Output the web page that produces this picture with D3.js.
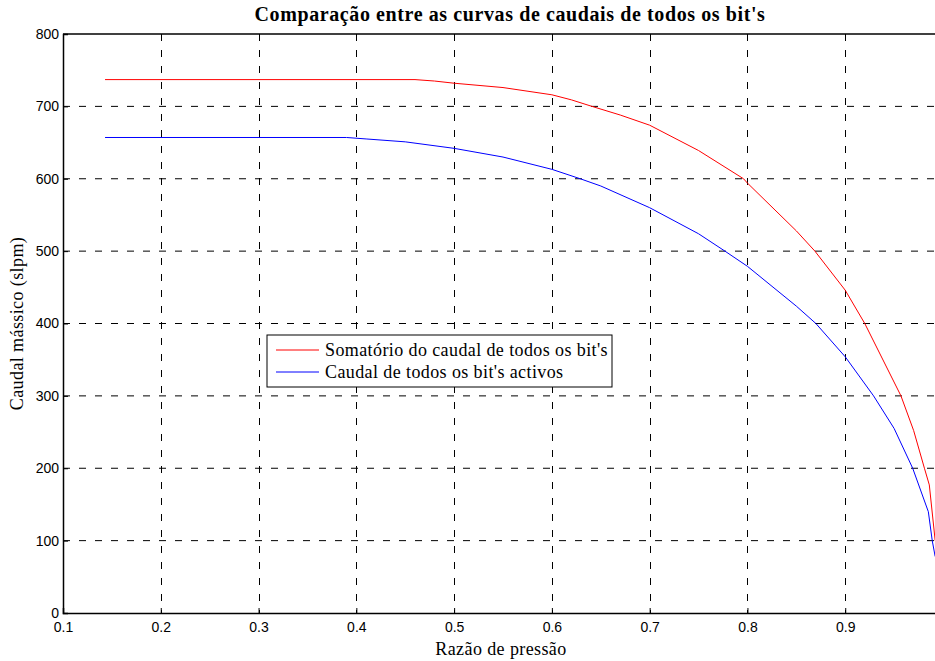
<!DOCTYPE html>
<html lang="pt">
<head>
<meta charset="UTF-8">
<title>Comparação entre as curvas de caudais</title>
<script src="https://d3js.org/d3.v7.min.js"></script>
<style>
  html, body { margin: 0; padding: 0; background: #fff; }
  svg { display: block; }
  .tick text { font-family: Helvetica, Arial, 'Liberation Sans', sans-serif; font-size: 14px; fill: #000; }
  .lbl { font-family: 'Liberation Serif', 'Times New Roman', serif; font-size: 18px; letter-spacing: 0.4px; fill: #000; }
  .title { font-family: 'Liberation Serif', 'Times New Roman', serif; font-size: 20px; letter-spacing: 0.6px; font-weight: bold; fill: #000; }
</style>
</head>
<body>
<div id="chart"></div>
<script>
// data
const redX = [0.143, 0.46, 0.48, 0.50, 0.55, 0.60, 0.62, 0.641, 0.67, 0.70, 0.75, 0.796, 0.80, 0.85, 0.869, 0.90, 0.92, 0.957, 0.97, 0.981, 0.986, 0.992];
const redY = [737, 737, 735, 732, 726, 716, 709, 700, 688, 674, 639, 600, 594, 528, 500, 446, 400, 300, 252, 200, 177, 100];
const blueX = [0.143, 0.39, 0.41, 0.45, 0.50, 0.55, 0.60, 0.629, 0.65, 0.70, 0.75, 0.777, 0.80, 0.85, 0.870, 0.90, 0.929, 0.95, 0.969, 0.985, 0.989, 0.992];
const blueY = [657, 657, 655, 651, 642, 630, 613, 600, 590, 560, 524, 500, 479, 424, 400, 354, 300, 255, 200, 140, 100, 78];
const xTicks = [0.1, 0.2, 0.3, 0.4, 0.5, 0.6, 0.7, 0.8, 0.9];
const yTicks = [0, 100, 200, 300, 400, 500, 600, 700, 800];
const seriesNames = ["Somatório do caudal de todos os bit's", "Caudal de todos os bit's activos"];
const seriesColors = ["#ff0000", "#0000ff"];

const W = 935, H = 661;
const svg = d3.select("#chart").append("svg").attr("width", W).attr("height", H);

const x = d3.scaleLinear().domain([0.1, 1.0]).range([63, 943]);
const y = d3.scaleLinear().domain([0, 800]).range([613, 34]);

// grid
svg.append("g").selectAll("line").data(xTicks.slice(1)).join("line")
  .attr("x1", d => Math.round(x(d)) + 0.5).attr("x2", d => Math.round(x(d)) + 0.5)
  .attr("y1", y(800)).attr("y2", y(0))
  .attr("stroke", "#000").attr("stroke-width", 1).attr("stroke-dasharray", "7,9");
svg.append("g").selectAll("line").data(yTicks.slice(1, -1)).join("line")
  .attr("x1", x(0.1)).attr("x2", x(1.0))
  .attr("y1", d => y(d)).attr("y2", d => y(d))
  .attr("stroke", "#000").attr("stroke-width", 1).attr("stroke-dasharray", "7,9");

// axes
const xAxis = svg.append("g").attr("transform", `translate(0,${y(0)})`)
  .call(d3.axisBottom(x).tickValues(xTicks).tickSize(-5).tickPadding(9).tickFormat(d3.format(".1f")));
const yAxis = svg.append("g").attr("transform", `translate(${x(0.1)},0)`)
  .call(d3.axisLeft(y).tickValues(yTicks).tickSize(-5).tickPadding(4).tickFormat(d3.format("d")));
[xAxis, yAxis].forEach(a => {
  a.select(".domain").attr("stroke", "#000").attr("stroke-width", 1.5);
  a.selectAll(".tick line").attr("stroke", "#000");
});
// top border
svg.append("line").attr("x1", x(0.1)).attr("x2", x(1.0)).attr("y1", y(800)).attr("y2", y(800))
  .attr("stroke", "#000").attr("stroke-width", 1.5);

// curves
const line = d3.line().x(d => x(d[0])).y(d => y(d[1]));
const redPts = redX.map((v, i) => [v, redY[i]]);
const bluePts = blueX.map((v, i) => [v, blueY[i]]);
[redPts, bluePts].forEach((pts, i) => {
  svg.append("path").datum(pts).attr("d", line)
    .attr("fill", "none").attr("stroke", seriesColors[i]).attr("stroke-width", 1);
});

// titles
svg.append("text").attr("class", "title").attr("x", 510).attr("y", 21)
  .attr("text-anchor", "middle").text("Comparação entre as curvas de caudais de todos os bit's");
svg.append("text").attr("class", "lbl").attr("x", 501).attr("y", 655)
  .attr("text-anchor", "middle").text("Razão de pressão");
svg.append("text").attr("class", "lbl")
  .attr("transform", `translate(23,${(y(0) + y(800)) / 2}) rotate(-90)`)
  .attr("text-anchor", "middle").text("Caudal mássico (slpm)");

// legend
const lg = svg.append("g").attr("transform", "translate(267,335)");
lg.append("rect").attr("width", 345).attr("height", 52)
  .attr("fill", "#fff").attr("stroke", "#000").attr("stroke-width", 1);
seriesNames.forEach((name, i) => {
  const yy = 15 + i * 22;
  lg.append("line").attr("x1", 9).attr("x2", 52).attr("y1", yy).attr("y2", yy)
    .attr("stroke", seriesColors[i]);
  lg.append("text").attr("class", "lbl").attr("x", 58).attr("y", yy + 6).text(name);
});
</script>
</body>
</html>
